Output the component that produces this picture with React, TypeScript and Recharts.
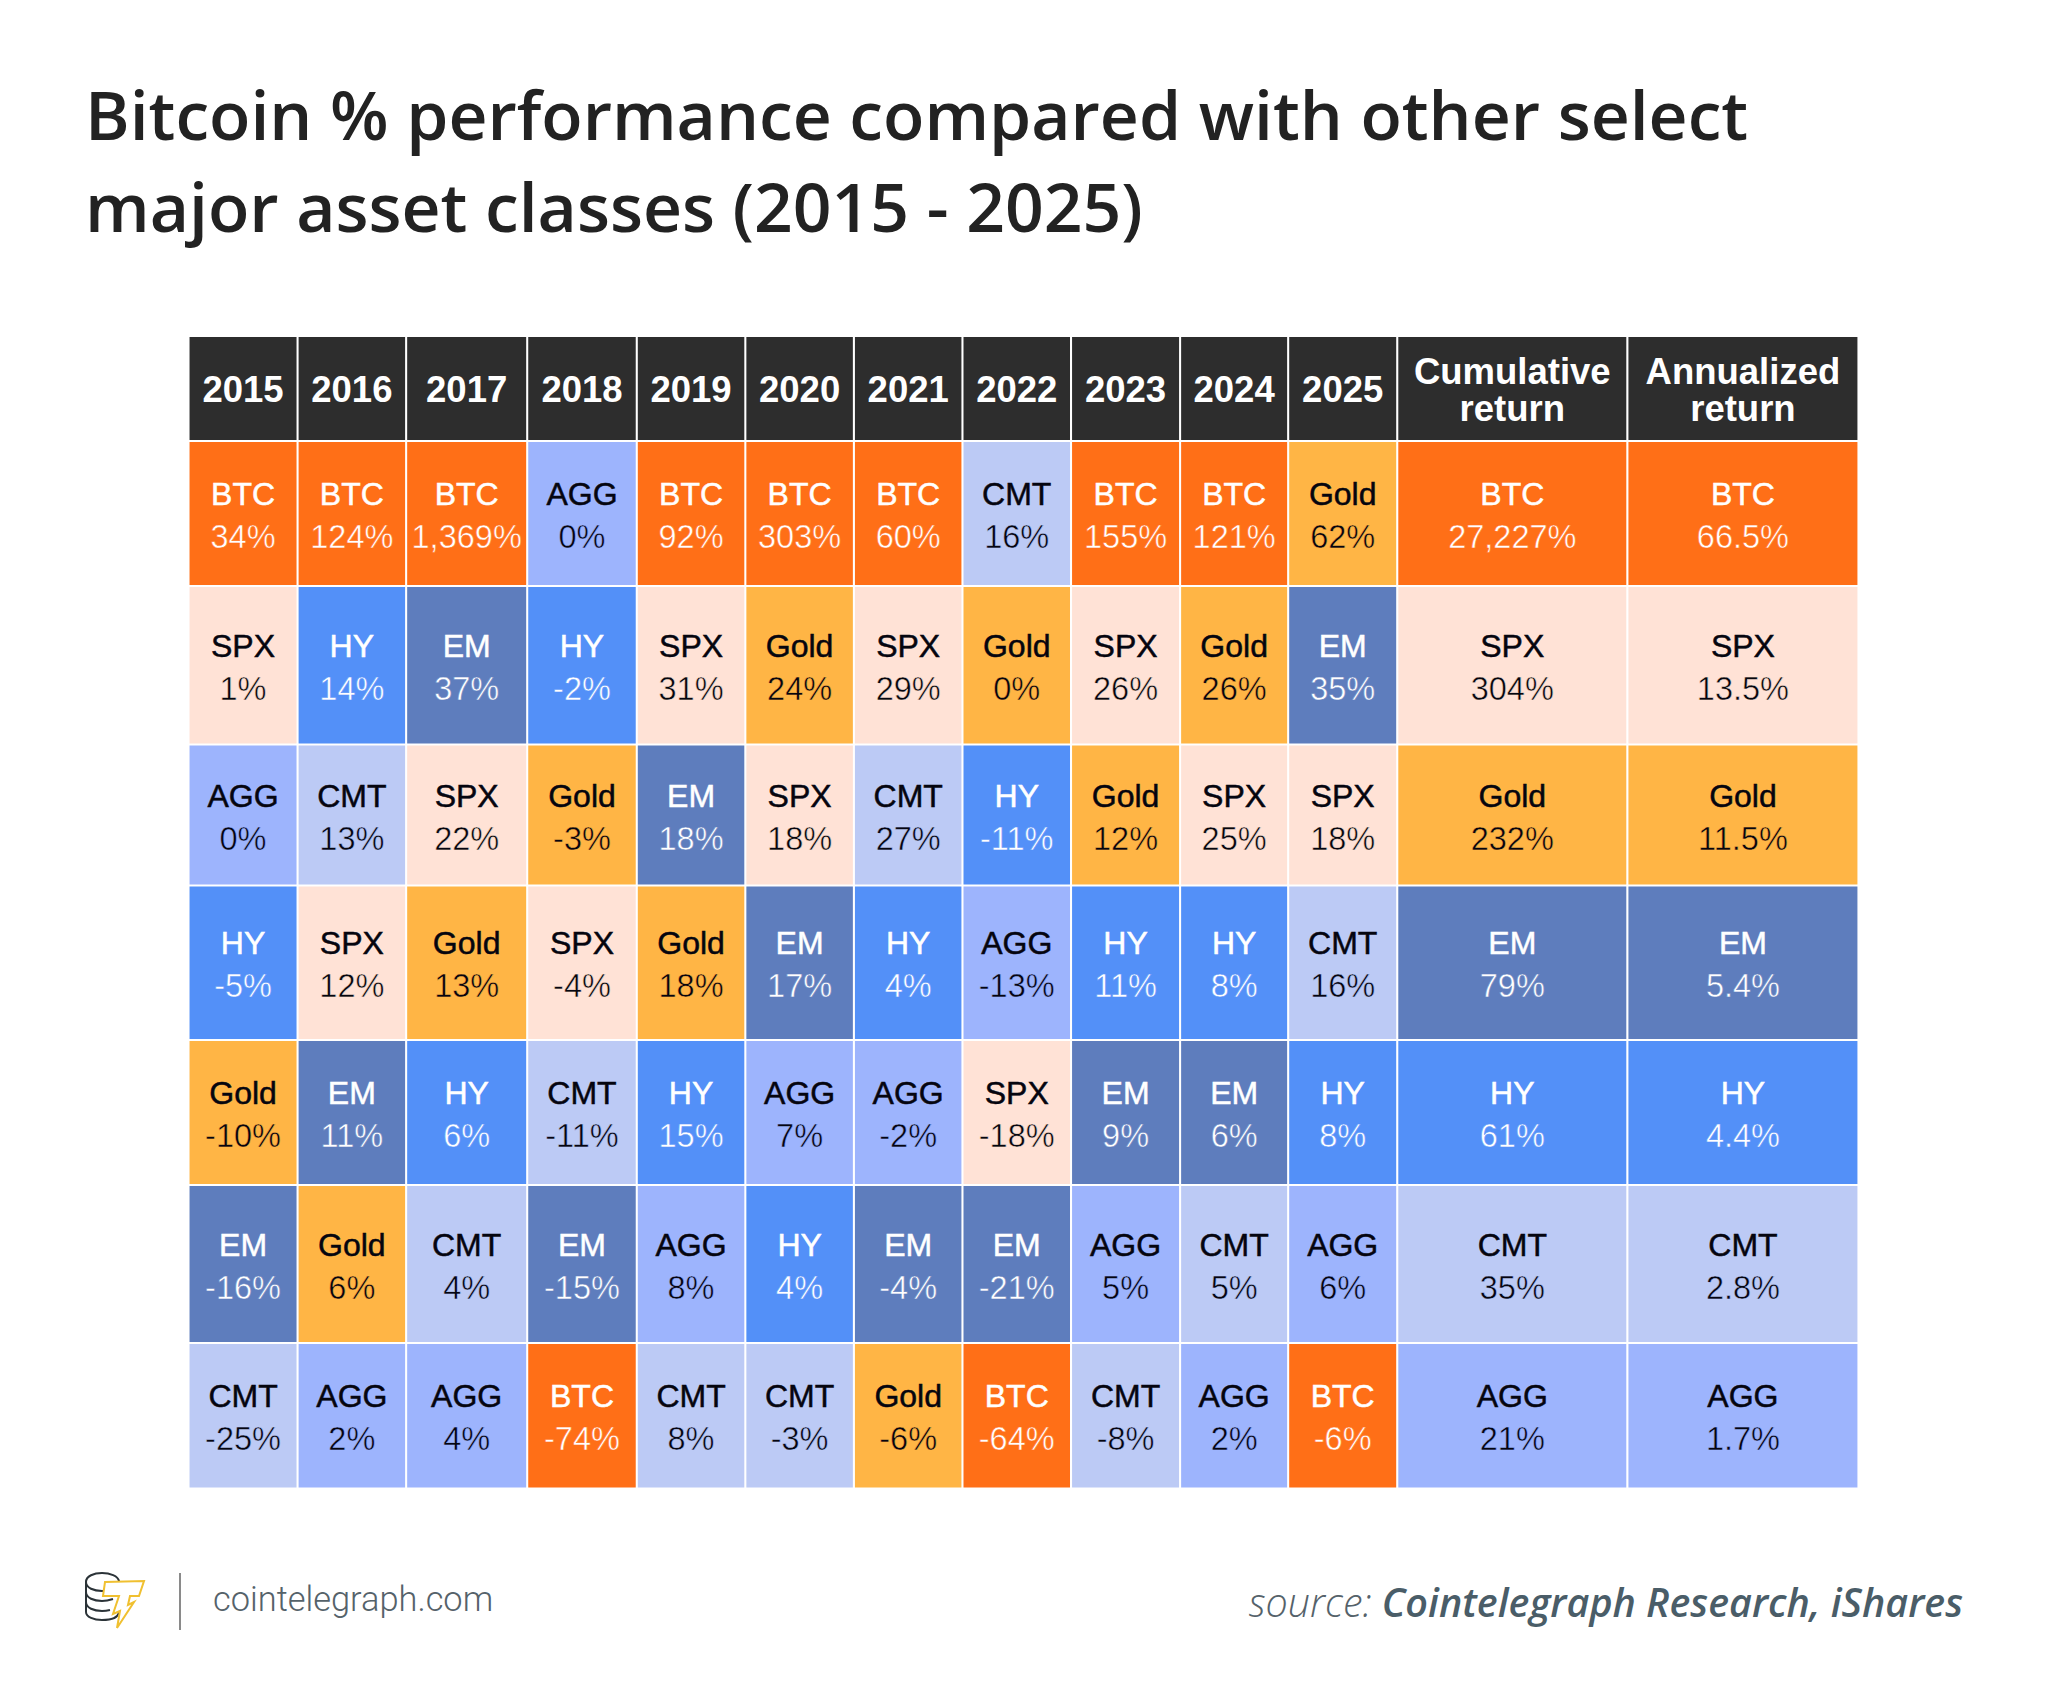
import { Scatter, ScatterChart, XAxis, YAxis } from 'recharts';

const assets = ['BTC', 'SPX', 'Gold', 'EM', 'HY', 'CMT', 'AGG'];

const columns = [
  ['2015'],
  ['2016'],
  ['2017'],
  ['2018'],
  ['2019'],
  ['2020'],
  ['2021'],
  ['2022'],
  ['2023'],
  ['2024'],
  ['2025'],
  ['Cumulative', 'return'],
  ['Annualized', 'return'],
];

// asset order per column, top row first
const order2015 = ['BTC', 'SPX', 'AGG', 'HY', 'Gold', 'EM', 'CMT'];
const order2016 = ['BTC', 'HY', 'CMT', 'SPX', 'EM', 'Gold', 'AGG'];
const order2017 = ['BTC', 'EM', 'SPX', 'Gold', 'HY', 'CMT', 'AGG'];
const order2018 = ['AGG', 'HY', 'Gold', 'SPX', 'CMT', 'EM', 'BTC'];
const order2019 = ['BTC', 'SPX', 'EM', 'Gold', 'HY', 'AGG', 'CMT'];
const order2020 = ['BTC', 'Gold', 'SPX', 'EM', 'AGG', 'HY', 'CMT'];
const order2021 = ['BTC', 'SPX', 'CMT', 'HY', 'AGG', 'EM', 'Gold'];
const order2022 = ['CMT', 'Gold', 'HY', 'AGG', 'SPX', 'EM', 'BTC'];
const order2023 = ['BTC', 'SPX', 'Gold', 'HY', 'EM', 'AGG', 'CMT'];
const order2024 = ['BTC', 'Gold', 'SPX', 'HY', 'EM', 'CMT', 'AGG'];
const order2025 = ['Gold', 'EM', 'SPX', 'CMT', 'HY', 'AGG', 'BTC'];
const orderCumulative = ['BTC', 'SPX', 'Gold', 'EM', 'HY', 'CMT', 'AGG'];
const orderAnnualized = ['BTC', 'SPX', 'Gold', 'EM', 'HY', 'CMT', 'AGG'];

// returns in %, same order as above
const returns2015 = [34, 1, 0, -5, -10, -16, -25];
const returns2016 = [124, 14, 13, 12, 11, 6, 2];
const returns2017 = [1369, 37, 22, 13, 6, 4, 4];
const returns2018 = [0, -2, -3, -4, -11, -15, -74];
const returns2019 = [92, 31, 18, 18, 15, 8, 8];
const returns2020 = [303, 24, 18, 17, 7, 4, -3];
const returns2021 = [60, 29, 27, 4, -2, -4, -6];
const returns2022 = [16, 0, -11, -13, -18, -21, -64];
const returns2023 = [155, 26, 12, 11, 9, 5, -8];
const returns2024 = [121, 26, 25, 8, 6, 5, 2];
const returns2025 = [62, 35, 18, 16, 8, 6, -6];
const returnsCumulative = [27227, 304, 232, 79, 61, 35, 21];
const returnsAnnualized = [66.5, 13.5, 11.5, 5.4, 4.4, 2.8, 1.7];

const orders = [
  order2015, order2016, order2017, order2018, order2019, order2020, order2021,
  order2022, order2023, order2024, order2025, orderCumulative, orderAnnualized,
];
const returns = [
  returns2015, returns2016, returns2017, returns2018, returns2019, returns2020, returns2021,
  returns2022, returns2023, returns2024, returns2025, returnsCumulative, returnsAnnualized,
];

const colors: Record<string, string> = {
  BTC: '#ff6f17',
  SPX: '#ffe2d6',
  Gold: '#ffb545',
  EM: '#5e7dbd',
  HY: '#5390f8',
  CMT: '#bccaf5',
  AGG: '#9db4fd',
};
const lightText = ['BTC', 'EM', 'HY'];

// grid layout, in axis units (1 unit = 1px)
const colWidths = [109, 108.5, 121, 109.5, 108.5, 108.5, 108.5, 108.5, 109, 108, 109, 230, 231];
const rowHeights = [145, 158.5, 141, 154.5, 145, 158, 145.5];
const HEADER_HEIGHT = 104;

const sum = (list: number[], n: number) => list.slice(0, n).reduce((a, b) => a + b, 0);
const colCenters = colWidths.map((w, i) => sum(colWidths, i) + w / 2);
const rowCenters = rowHeights.map((h, i) => sum(rowHeights, i) + h / 2);

function formatReturn(value: number, column: number) {
  if (column === 12) return `${value.toFixed(1)}%`;
  return `${value.toLocaleString('en-US')}%`;
}

const seriesFor = (asset: string) =>
  orders.flatMap((order, c) =>
    order.flatMap((name, r) =>
      name === asset
        ? [{ x: colCenters[c], y: rowCenters[r], w: colWidths[c], h: rowHeights[r], asset, text: formatReturn(returns[c][r], c) }]
        : [],
    ),
  );

const FONT = '"Liberation Sans", Arial, sans-serif';

function CellShape({ cx, cy, payload }: any) {
  const { w, h, asset, text } = payload;
  const fill = colors[asset];
  const ink = lightText.includes(asset) ? '#ffffff' : '#05050f';
  return (
    <g>
      <rect x={cx - w / 2 + 1} y={cy - h / 2 + 1} width={w - 2} height={h - 2} fill={fill} />
      <text x={cx} y={cy - 8.5} textAnchor="middle" fontFamily={FONT} fontSize={32} fill={ink} stroke={ink} strokeWidth={0.5}>
        {asset}
      </text>
      <text x={cx} y={cy + 34.5} textAnchor="middle" fontFamily={FONT} fontSize={32.5} fill={ink} stroke={fill} strokeWidth={0.5}>
        {text}
      </text>
    </g>
  );
}

function HeaderTick({ x, y, index }: any) {
  const lines = columns[index];
  const w = colWidths[index];
  const top = y - HEADER_HEIGHT;
  return (
    <g>
      <rect x={x - w / 2 + 1} y={top} width={w - 2} height={HEADER_HEIGHT - 1} fill="#2d2d2d" />
      {lines.map((line, i) => (
        <text
          key={line}
          x={x}
          y={lines.length === 1 ? top + 65 : top + 47 + i * 37}
          textAnchor="middle"
          fontFamily={FONT}
          fontWeight={700}
          fontSize={36.5}
          fill="#ffffff"
        >
          {line}
        </text>
      ))}
    </g>
  );
}

function Logo() {
  return (
    <svg width={62} height={58} viewBox="0 0 62 58" style={{ position: 'absolute', left: 84, top: 1572 }}>
      <g fill="#ffffff" stroke="#2b3338" strokeWidth={2}>
        <path d="M2 10 C2 4 10 1 18 1 C26 1 34 4 35 9 L35 40 C34 46 26 48 18 48 C10 48 2 45 2 40 Z" />
        <path d="M2 10 C2 16 10 19 18 19 C24 19 30 17 33 15" fill="none" />
        <path d="M2 20 C2 26 10 29 18 29 C22 29 26 28 29 27" fill="none" />
        <path d="M2 30 C2 36 10 39 18 39 C21 39 24 38.5 26 38" fill="none" />
      </g>
      <path
        d="M21 10 L60 9 L55 24 L46 24 L44 33 L50 30 L33 56 L36 39 L29 42 L35 24 L19 24 Z"
        fill="#ffffff"
        stroke="#f0c030"
        strokeWidth={2}
        strokeLinejoin="miter"
      />
    </svg>
  );
}

export default function App() {
  return (
    <div style={{ position: 'absolute', left: 0, top: 0, width: 2048, height: 1698, background: '#ffffff', overflow: 'hidden' }}>
      <div
        style={{
          position: 'absolute',
          left: 85,
          top: 68,
          fontFamily: '"Open Sans", sans-serif',
          fontWeight: 600,
          fontSize: 67.8,
          lineHeight: '92px',
          color: '#222222',
          whiteSpace: 'nowrap',
        }}
      >
        Bitcoin % performance compared with other select
        <br />
        major asset classes (2015 - 2025)
      </div>

      <div style={{ position: 'absolute', left: 0, top: 0 }}>
        <ScatterChart width={2048} height={1698} margin={{ top: 337, right: 189.5, bottom: 209.5, left: 188.5 }}>
          <XAxis
            xAxisId={0}
            type="number"
            dataKey="x"
            orientation="top"
            domain={[0, sum(colWidths, colWidths.length)]}
            ticks={colCenters}
            interval={0}
            height={HEADER_HEIGHT}
            axisLine={false}
            tickLine={false}
            tickSize={0}
            tickMargin={0}
            tick={<HeaderTick />}
          />
          <YAxis yAxisId={0} type="number" dataKey="y" hide reversed width={0} domain={[0, sum(rowHeights, rowHeights.length)]} />
          {assets.map((asset) => (
            <Scatter
              key={asset}
              name={asset}
              data={seriesFor(asset)}
              fill={colors[asset]}
              shape={<CellShape />}
              isAnimationActive={false}
            />
          ))}
        </ScatterChart>
      </div>

      <Logo />
      <div style={{ position: 'absolute', left: 179, top: 1573, width: 2, height: 57, background: '#8a8a8a' }} />
      <div
        style={{
          position: 'absolute',
          left: 213,
          top: 1580,
          fontFamily: 'Roboto, sans-serif',
          fontWeight: 300,
          fontSize: 34.4,
          lineHeight: '38px',
          color: '#55626a',
          whiteSpace: 'nowrap',
        }}
      >
        cointelegraph.com
      </div>
      <div
        style={{
          position: 'absolute',
          right: 85,
          top: 1577,
          fontFamily: '"Open Sans", sans-serif',
          fontStyle: 'italic',
          fontSize: 39.5,
          lineHeight: '50px',
          color: '#55626a',
          whiteSpace: 'nowrap',
        }}
      >
        <span style={{ fontWeight: 300 }}>source: </span>
        <span style={{ fontWeight: 600, color: '#4a5d68' }}>Cointelegraph Research, iShares</span>
      </div>
    </div>
  );
}
